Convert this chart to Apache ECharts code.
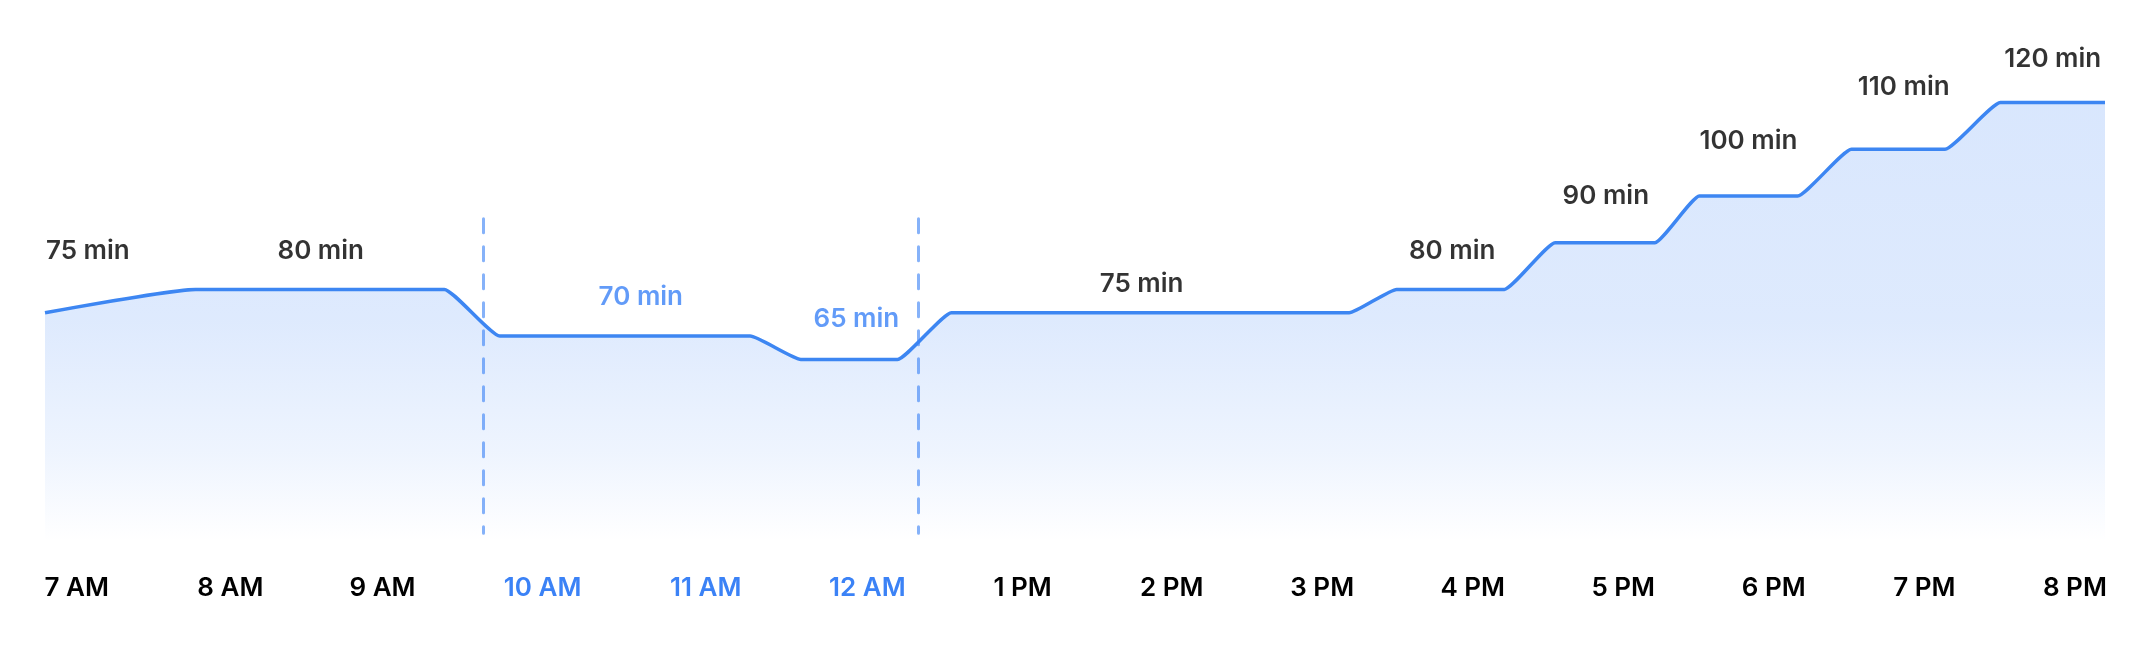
<!DOCTYPE html>
<html>
<head>
<meta charset="utf-8">
<script src="https://cdn.jsdelivr.net/npm/echarts@6/dist/echarts.min.js"></script>
<style>
  html, body { margin: 0; padding: 0; background: #fff; }
  #chart { width: 2148px; height: 672px; }
</style>
</head>
<body>
<div id="chart"></div>
<script>
// wait time over the day, x in hours (7 = 7 AM, 20 = 8 PM)
var hours  = [7, 7.95, 9.52, 9.87, 11.45, 11.77, 12.38, 12.72, 15.23, 15.53, 16.21, 16.53, 17.16, 17.44, 18.06, 18.40, 18.99, 19.34, 20];
var minutes = [75, 80, 80, 70, 70, 65, 65, 75, 75, 80, 80, 90, 90, 100, 100, 110, 110, 120, 120];

// segment captions
var noteText  = ['75 min', '80 min', '70 min', '65 min', '75 min', '80 min', '90 min', '100 min', '110 min', '120 min'];
var noteHour  = [7.27, 8.74, 10.76, 12.12, 13.92, 15.88, 16.85, 17.75, 18.73, 19.67];
var noteValue = [88.2, 88.2, 78.4, 73.7, 81.2, 88.2, 100.0, 111.8, 123.2, 129.3];

// hour labels along the bottom
var tickText = ['7 AM', '8 AM', '9 AM', '10 AM', '11 AM', '12 AM', '1 PM', '2 PM', '3 PM', '4 PM', '5 PM', '6 PM', '7 PM', '8 PM'];
var tickHour = [7.20, 8.17, 9.13, 10.14, 11.17, 12.19, 13.17, 14.11, 15.06, 16.01, 16.96, 17.91, 18.86, 19.81];

// highlighted window (dashed guides)
var windowHours = [9.764, 12.51];
var guideRange = [95.1, 27.8];

var BLUE = '#3b82f6';
var INK = '#000000';

function inWindow(h) {
    return h > windowHours[0] && h < windowHours[1];
}

var lineData = [];
for (var i = 0; i < hours.length; i++) {
    lineData.push([hours[i], minutes[i]]);
}

var notes = [];
for (var i = 0; i < noteText.length; i++) {
    notes.push({
        value: [noteHour[i], noteValue[i]],
        name: noteText[i],
        label: { color: inWindow(noteHour[i]) ? BLUE : INK }
    });
}

var guides = [];
for (var i = 0; i < windowHours.length; i++) {
    guides.push([
        { coord: [windowHours[i], guideRange[0]] },
        { coord: [windowHours[i], guideRange[1]] }
    ]);
}

var chart = echarts.init(document.getElementById('chart'));
chart.setOption({
    animation: false,
    backgroundColor: '#ffffff',
    textStyle: { fontFamily: 'Inter, "Noto Sans", sans-serif' },
    grid: { left: 45, right: 43, top: 32.5, bottom: 130.4 },
    xAxis: {
        type: 'value',
        min: 7,
        max: 20,
        axisLine: { show: false },
        axisTick: { show: false },
        splitLine: { show: false },
        axisLabel: {
            customValues: tickHour,
            margin: 34,
            fontSize: 26,
            fontWeight: 600,
            fontFamily: 'Inter',
            color: INK,
            formatter: function (val) {
                var best = 0;
                for (var k = 1; k < tickHour.length; k++) {
                    if (Math.abs(tickHour[k] - val) < Math.abs(tickHour[best] - val)) best = k;
                }
                return inWindow(tickHour[best]) ? '{b|' + tickText[best] + '}' : tickText[best];
            },
            rich: {
                b: { color: BLUE, fontSize: 26, fontWeight: 600, fontFamily: 'Inter' }
            }
        }
    },
    yAxis: {
        type: 'value',
        min: 26,
        max: 135,
        show: false,
        splitLine: { show: false }
    },
    series: [
        {
            type: 'line',
            data: lineData,
            smooth: 0.15,
            smoothMonotone: 'x',
            symbol: 'none',
            lineStyle: { color: '#3d86f2', width: 3.5 },
            areaStyle: {
                color: new echarts.graphic.LinearGradient(0, 0, 0, 1, [
                    { offset: 0, color: 'rgba(59,130,246,0.28)' },
                    { offset: 0.5, color: 'rgba(59,130,246,0.24)' },
                    { offset: 0.8, color: 'rgba(59,130,246,0.12)' },
                    { offset: 1, color: 'rgba(59,130,246,0.0)' }
                ])
            },
            markLine: {
                silent: true,
                symbol: ['none', 'none'],
                label: { show: false },
                lineStyle: {
                    color: 'rgba(59,130,246,0.62)',
                    width: 3,
                    type: [14, 14],
                    cap: 'round'
                },
                data: guides
            },
            z: 2
        },
        {
            type: 'scatter',
            data: notes,
            symbolSize: 0,
            silent: true,
            label: {
                show: true,
                position: 'inside',
                formatter: '{b}',
                fontSize: 26,
                fontWeight: 600,
                fontFamily: 'Inter'
            },
            z: 3
        }
    ]
});
</script>
</body>
</html>
